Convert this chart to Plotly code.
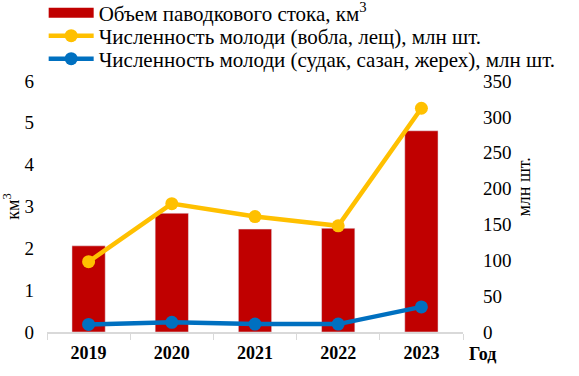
import plotly.graph_objects as go

years = ["2019", "2020", "2021", "2022", "2023"]
runoff_km3 = [2.06, 2.84, 2.46, 2.48, 4.81]
roach_bream = [98, 179, 161, 148, 312]
pike_carp_asp = [10.5, 13.5, 11, 11, 35]

RED = "#C00000"
YEL = "#FFC000"
BLU = "#0070C0"
FONT = "Times New Roman, Liberation Serif, serif"

fig = go.Figure()
fig.add_trace(go.Bar(x=years, y=runoff_km3, marker_color=RED, showlegend=False,
                     name="Объем паводкового стока, км<sup>3</sup>"))
# legend proxy for bar (wide rectangle symbol)
fig.add_trace(go.Scatter(x=[None], y=[None], mode="lines",
                         line=dict(color=RED, width=10), legend="legend",
                         name="Объем паводкового стока, км<sup>3</sup>"))
fig.add_trace(go.Scatter(x=years, y=roach_bream, yaxis="y2", mode="lines+markers",
                         line=dict(color=YEL, width=4.5), legend="legend2",
                         marker=dict(size=13, color=YEL),
                         name="Численность молоди (вобла, лещ), млн шт."))
fig.add_trace(go.Scatter(x=years, y=pike_carp_asp, yaxis="y2", mode="lines+markers",
                         line=dict(color=BLU, width=4.5), legend="legend3",
                         marker=dict(size=13, color=BLU),
                         name="Численность молоди (судак, сазан, жерех), млн шт."))

def leg(ypx):
    return dict(x=-0.008, y=1 - ypx / 376, xref="paper", yref="container",
                xanchor="left", yanchor="middle", orientation="v",
                font=dict(size=21, family=FONT), itemwidth=45,
                bgcolor="rgba(0,0,0,0)", borderwidth=0)

fig.update_layout(
    width=579, height=376,
    margin=dict(l=47, r=116, t=81, b=44, autoexpand=False),
    paper_bgcolor="white", plot_bgcolor="white",
    font=dict(family=FONT, size=19, color="black"),
    bargap=0.6,
    showlegend=True,
    legend=leg(13), legend2=leg(36), legend3=leg(59),
    xaxis=dict(type="category", showline=True, linecolor="#D9D9D9", linewidth=1.5,
               ticks="outside", tickson="boundaries", ticklen=6, tickcolor="#D9D9D9",
               ticklabelstandoff=4,
               tickfont=dict(family=FONT, size=18, color="black", weight="bold"),
               showgrid=False),
    yaxis=dict(range=[0, 6], dtick=1, showgrid=False, zeroline=False, showline=False,
               ticklabelstandoff=12, tickfont=dict(size=19),
               title=dict(text="км<sup>3</sup>", standoff=6, font=dict(size=18))),
    yaxis2=dict(range=[0, 350], dtick=50, overlaying="y", side="right",
                showgrid=False, zeroline=False, showline=False, ticklabelstandoff=19,
                tickfont=dict(size=19)),
    annotations=[
        dict(text="<b>Год</b>", xref="paper", yref="paper", x=1.01, y=-0.04,
             xanchor="left", yanchor="top", showarrow=False,
             font=dict(family=FONT, size=18, color="black")),
        dict(text="млн шт.", xref="paper", yref="paper", x=(524 - 47) / 416,
             y=(333 - 188) / 252, xanchor="center", yanchor="middle",
             textangle=-90, showarrow=False,
             font=dict(family=FONT, size=18, color="black")),
    ],
)

fig.write_html("out.html")
